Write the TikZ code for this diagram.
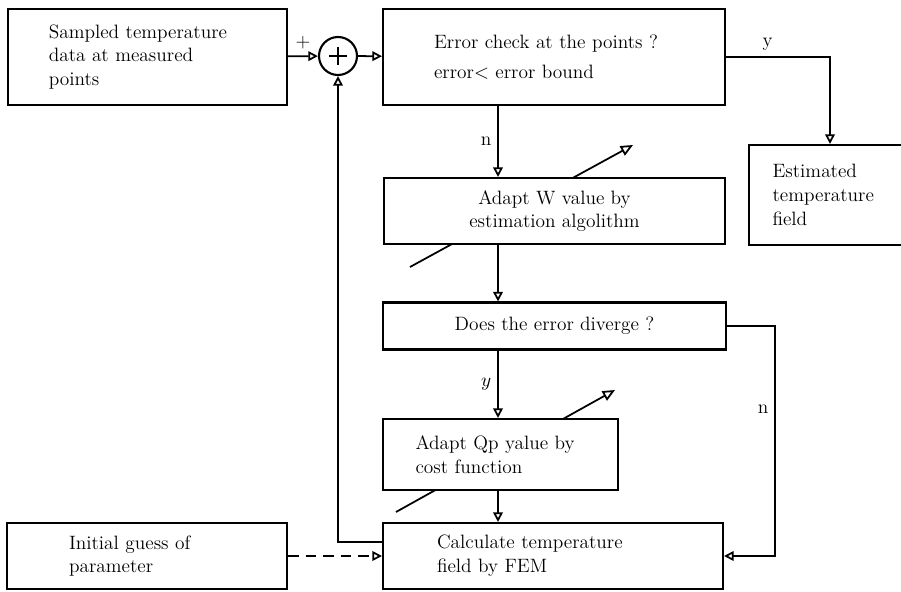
\documentclass[tikz,border=0pt]{standalone}
\usepackage{fontspec}
\usetikzlibrary{arrows.meta}
\tikzset{>={Triangle[open,length=5.5pt,width=5.5pt]}}

\begin{document}
\begin{tikzpicture}[x=0.02cm, y=-0.02cm, line width=1pt,
    every node/.style={font=\fontsize{11}{13.5}\selectfont\addfontfeature{LetterSpace=10}},
    box/.style={draw, line width=1.2pt, fill=white, inner sep=0pt}]
  \useasboundingbox (0,0) rectangle (901,591);
  % adjusting arrows, behind the boxes
  \draw[-{Triangle[open,length=7pt,width=6pt]}] (410,267) -- (633,145);
  \draw[-{Triangle[open,length=7pt,width=6pt]}] (396,512) -- (615,390);
  \node (samp) at (147.5,57) [box, minimum width=5.58cm, minimum height=1.92cm, text width=3.95cm, align=left] {Sampled temperature\\data at measured\\points};
  \node (sum) at (338,56) [circle, draw, line width=1.2pt, minimum size=0.76cm, inner sep=0pt] {};
  \node (chk) at (554,57) [box, minimum width=6.84cm, minimum height=1.92cm, text width=4.8cm, align=left] {Error check at the points ?\\[4pt]error$<$ error bound};
  \node (est) at (830,195) [box, minimum width=3.24cm, minimum height=2cm, text width=2.3cm, align=left] {Estimated\\temperature\\field};
  \node (adw) at (554.5,211) [box, minimum width=6.82cm, minimum height=1.32cm, align=center] {Adapt W value by\\estimation algolithm};
  \node (div) at (554.5,326) [box, minimum width=6.86cm, minimum height=0.94cm] {Does the error diverge ?};
  \node (adq) at (500.5,454.5) [box, minimum width=4.7cm, minimum height=1.42cm, text width=3.4cm, align=left] {Adapt Qp yalue by\\cost function};
  \node (calc) at (553,556) [box, minimum width=6.8cm, minimum height=1.32cm, text width=4.64cm, align=left] {Calculate temperature\\field by FEM};
  \node (init) at (147,556) [box, minimum width=5.6cm, minimum height=1.32cm, text width=3.12cm, align=left] {Initial guess of\\parameter};
  \draw[line width=1.3pt] (sum.center) ++(-9,0) -- ++(18,0) (sum.center) ++(0,-9) -- ++(0,18);
  \coordinate (spine) at (498,0);
  \coordinate (nturn) at (775,0);
  \draw[->] (samp) -- (sum) node[midway, above] {+};
  \draw[->] (sum) -- (chk);
  \draw[->] (chk.east) -| (est.north) node[pos=0.2, above] {y};
  \foreach \source/\dest/\lbl in {chk/adw/n, adw/div/, div/adq/$y$, adq/calc/}
    \draw[->] (spine |- \source.south) -- (spine |- \dest.north) node[midway, left] {\lbl};
  \draw[->] (div.east) -- (div.east -| nturn) |- (calc.east) node[pos=0.18, left] {n};
  \draw[->] ([yshift=0.28cm]calc.west) -| (sum.south);
  \draw[->, dash pattern=on 6pt off 4pt] (init) -- (calc);
\end{tikzpicture}
\end{document}
